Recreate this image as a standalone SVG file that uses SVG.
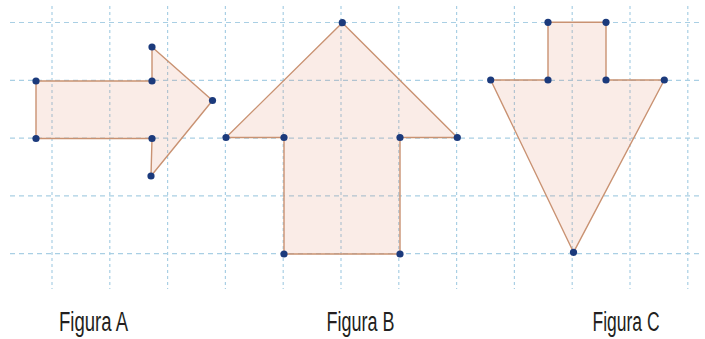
<svg xmlns="http://www.w3.org/2000/svg" width="705" height="339" viewBox="0 0 705 339">
<style>
.grid line{stroke:#a9cfe4;stroke-width:1.2;}
.h{stroke-dasharray:5 4;}
.v{stroke-dasharray:3 3;}
.shape{fill:#e08a68;fill-opacity:0.16;stroke:#c99272;stroke-width:1.4;stroke-linejoin:round;}
.pt{fill:#1b3a7c;}
.lbl{font-family:"Liberation Sans Narrow","Liberation Sans",Arial,sans-serif;font-size:27px;fill:#231f20;}
</style>
<rect width="705" height="339" fill="#ffffff"/>
<g class="grid" id="grid">
<line class="h" x1="10" y1="22.5" x2="702" y2="22.5"/>
<line class="h" x1="10" y1="80.3" x2="702" y2="80.3"/>
<line class="h" x1="10" y1="138.1" x2="702" y2="138.1"/>
<line class="h" x1="10" y1="195.9" x2="702" y2="195.9"/>
<line class="h" x1="10" y1="253.7" x2="702" y2="253.7"/>
<line class="v" x1="52" y1="6" x2="52" y2="289"/>
<line class="v" x1="109.8" y1="6" x2="109.8" y2="289"/>
<line class="v" x1="167.6" y1="6" x2="167.6" y2="289"/>
<line class="v" x1="225.4" y1="6" x2="225.4" y2="289"/>
<line class="v" x1="283.2" y1="6" x2="283.2" y2="289"/>
<line class="v" x1="341" y1="6" x2="341" y2="289"/>
<line class="v" x1="398.8" y1="6" x2="398.8" y2="289"/>
<line class="v" x1="456.6" y1="6" x2="456.6" y2="289"/>
<line class="v" x1="514.4" y1="6" x2="514.4" y2="289"/>
<line class="v" x1="572.2" y1="6" x2="572.2" y2="289"/>
<line class="v" x1="630" y1="6" x2="630" y2="289"/>
<line class="v" x1="687.8" y1="6" x2="687.8" y2="289"/>
</g>
<g id="figA">
<polygon class="shape" points="36,81 152,81 152,47 212.5,100.5 151,176 152,138.5 36,138.5"/>
<g class="pt">
<circle cx="36" cy="81" r="3.6"/><circle cx="152" cy="81" r="3.6"/><circle cx="152" cy="47" r="3.6"/>
<circle cx="212.5" cy="100.5" r="3.6"/><circle cx="151" cy="176" r="3.6"/><circle cx="152" cy="138.5" r="3.6"/>
<circle cx="36" cy="138.5" r="3.6"/>
</g>
<text class="lbl" x="59" y="331" textLength="69" lengthAdjust="spacingAndGlyphs">Figura A</text>
</g>
<g id="figB">
<polygon class="shape" points="342.3,22.7 457.3,137.5 400,137.5 400,254 284,254 284,137.5 226,137.5"/>
<g class="pt">
<circle cx="342.3" cy="22.7" r="3.6"/><circle cx="457.3" cy="137.5" r="3.6"/><circle cx="400" cy="137.5" r="3.6"/>
<circle cx="400" cy="254" r="3.6"/><circle cx="284" cy="254" r="3.6"/><circle cx="284" cy="137.5" r="3.6"/>
<circle cx="226" cy="137.5" r="3.6"/>
</g>
<text class="lbl" x="326.5" y="331" textLength="68" lengthAdjust="spacingAndGlyphs">Figura B</text>
</g>
<g id="figC">
<polygon class="shape" points="548,22.3 606,22.3 606,80 664.3,80 573.5,252.3 490.7,80 548,80"/>
<g class="pt">
<circle cx="548" cy="22.3" r="3.6"/><circle cx="606" cy="22.3" r="3.6"/><circle cx="606" cy="80" r="3.6"/>
<circle cx="664.3" cy="80" r="3.6"/><circle cx="573.5" cy="252.3" r="3.6"/><circle cx="490.7" cy="80" r="3.6"/>
<circle cx="548" cy="80" r="3.6"/>
</g>
<text class="lbl" x="592.5" y="331" textLength="67" lengthAdjust="spacingAndGlyphs">Figura C</text>
</g>
</svg>
